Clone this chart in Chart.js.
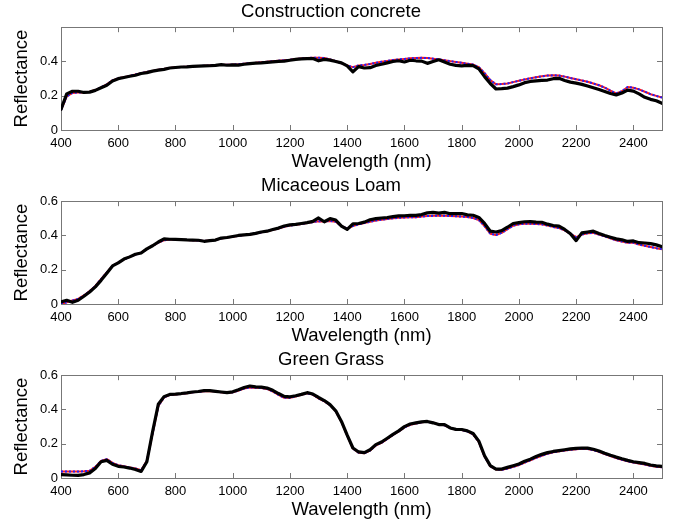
<!DOCTYPE html>
<html>
<head>
<meta charset="utf-8">
<script src="https://cdn.jsdelivr.net/npm/chart.js@4.4.0/dist/chart.umd.min.js"></script>
<style>
  body { margin: 0; background: #fff; }
  canvas { position: absolute; left: 0; }
</style>
</head>
<body>
<canvas id="c1" width="680" height="174" style="top:0"></canvas>
<canvas id="c2" width="680" height="174" style="top:174px"></canvas>
<canvas id="c3" width="680" height="174" style="top:348px"></canvas>
<script>
// wavelength grid (nm), 20 nm step
const wavelengths = Array.from({ length: 106 }, (_, i) => 400 + i * 20);
const xTicks = [400, 600, 800, 1000, 1200, 1400, 1600, 1800, 2000, 2200, 2400];
const yTicksConcrete = [0, 0.2, 0.4];
const yTicks = [0, 0.2, 0.4, 0.6];

// Construction concrete
const concreteMeasured = [
  0.12, 0.21, 0.225, 0.225, 0.218, 0.22, 0.23, 0.245, 0.26, 0.285,
  0.298, 0.305, 0.312, 0.318, 0.328, 0.333, 0.342, 0.348, 0.352, 0.36,
  0.363, 0.366, 0.367, 0.369, 0.371, 0.372, 0.373, 0.375, 0.38, 0.376,
  0.378, 0.377, 0.382, 0.385, 0.388, 0.39, 0.393, 0.396, 0.399, 0.4,
  0.405, 0.41, 0.413, 0.415, 0.415, 0.402, 0.41, 0.406, 0.398, 0.39,
  0.372, 0.338, 0.368, 0.36, 0.362, 0.375, 0.382, 0.39, 0.398, 0.402,
  0.395, 0.405, 0.402, 0.4, 0.387, 0.398, 0.408, 0.395, 0.382, 0.375,
  0.372, 0.375, 0.374, 0.355, 0.31, 0.27, 0.238, 0.24, 0.243, 0.252,
  0.262, 0.275, 0.282, 0.285, 0.288, 0.29, 0.298, 0.3, 0.288, 0.278,
  0.272, 0.265, 0.255, 0.245, 0.235, 0.224, 0.212, 0.204, 0.215, 0.232,
  0.226, 0.21, 0.19, 0.178, 0.17, 0.155
];
const concreteModel = [
  0.115, 0.195, 0.215, 0.218, 0.218, 0.222, 0.232, 0.248, 0.265, 0.288,
  0.3, 0.307, 0.314, 0.322, 0.33, 0.337, 0.343, 0.35, 0.355, 0.36,
  0.364, 0.366, 0.368, 0.37, 0.372, 0.373, 0.375, 0.377, 0.378, 0.379,
  0.38, 0.382, 0.385, 0.388, 0.39, 0.393, 0.396, 0.399, 0.402, 0.405,
  0.408, 0.412, 0.415, 0.418, 0.42, 0.42, 0.418, 0.41, 0.4, 0.388,
  0.375, 0.365, 0.375, 0.378, 0.383, 0.39, 0.396, 0.401, 0.406, 0.41,
  0.413, 0.416, 0.418, 0.419, 0.418, 0.414, 0.41, 0.405, 0.4, 0.395,
  0.39, 0.385, 0.38, 0.365, 0.33, 0.29, 0.265, 0.267, 0.27, 0.278,
  0.286, 0.294, 0.3, 0.306, 0.312, 0.316, 0.318, 0.316, 0.31, 0.302,
  0.295, 0.288, 0.28, 0.27, 0.26, 0.246, 0.228, 0.213, 0.225, 0.25,
  0.245, 0.236, 0.222, 0.208, 0.198, 0.188
];

// Micaceous Loam
const loamMeasured = [
  0.012, 0.022, 0.01, 0.022, 0.045, 0.07, 0.1, 0.138, 0.18, 0.222,
  0.24, 0.262, 0.275, 0.29, 0.298, 0.322, 0.34, 0.362, 0.38, 0.378,
  0.377, 0.376, 0.374, 0.373, 0.372, 0.366, 0.37, 0.373, 0.385, 0.388,
  0.394, 0.4, 0.403, 0.406, 0.412, 0.42, 0.425, 0.435, 0.443, 0.455,
  0.462, 0.465, 0.47, 0.475, 0.482, 0.502, 0.48, 0.498, 0.49, 0.455,
  0.435, 0.468, 0.47, 0.478, 0.492, 0.498, 0.502, 0.505, 0.51, 0.514,
  0.515, 0.518, 0.517, 0.522, 0.532, 0.535, 0.53, 0.535, 0.527, 0.527,
  0.528, 0.52, 0.518, 0.505, 0.47, 0.425, 0.42, 0.428, 0.448, 0.47,
  0.475, 0.48, 0.481, 0.478, 0.477, 0.466, 0.458, 0.455, 0.435, 0.41,
  0.37, 0.415, 0.42, 0.425, 0.412, 0.4, 0.39, 0.38, 0.375, 0.365,
  0.368, 0.358, 0.356, 0.352, 0.345, 0.335
];
const loamModel = [
  0.0, 0.01, 0.02, 0.03, 0.05, 0.075, 0.105, 0.145, 0.185, 0.222,
  0.242, 0.26, 0.275, 0.288, 0.3, 0.32, 0.34, 0.358, 0.372, 0.376,
  0.376, 0.375, 0.374, 0.372, 0.37, 0.368, 0.37, 0.375, 0.382, 0.388,
  0.393, 0.398, 0.402, 0.406, 0.412, 0.418, 0.425, 0.433, 0.44, 0.45,
  0.458, 0.462, 0.467, 0.472, 0.478, 0.483, 0.482, 0.485, 0.48, 0.455,
  0.44, 0.455, 0.465, 0.472, 0.48, 0.487, 0.492, 0.496, 0.5, 0.503,
  0.505, 0.507, 0.507, 0.51, 0.513, 0.515, 0.516, 0.515, 0.514, 0.512,
  0.51, 0.508, 0.502, 0.49, 0.455, 0.41, 0.403, 0.415, 0.437, 0.457,
  0.465, 0.468, 0.468, 0.467, 0.465, 0.458, 0.45, 0.443, 0.43, 0.41,
  0.39, 0.405, 0.413, 0.415, 0.405, 0.395, 0.383, 0.372, 0.365, 0.358,
  0.357, 0.347, 0.34, 0.333, 0.326, 0.32
];

// Green Grass
const grassMeasured = [
  0.02, 0.018, 0.016, 0.015, 0.02, 0.03, 0.055, 0.095, 0.103, 0.08,
  0.068, 0.064, 0.058, 0.05, 0.038, 0.095, 0.27, 0.43, 0.475, 0.488,
  0.49, 0.493, 0.497, 0.502, 0.505, 0.51, 0.51, 0.506, 0.502, 0.498,
  0.503, 0.515, 0.528, 0.537, 0.532, 0.53, 0.525, 0.512, 0.493, 0.476,
  0.474, 0.48, 0.488, 0.498, 0.49, 0.47, 0.452, 0.428, 0.392, 0.33,
  0.25, 0.175, 0.152, 0.148, 0.165, 0.195, 0.21, 0.232, 0.255, 0.275,
  0.3, 0.315, 0.322, 0.328, 0.33, 0.322, 0.312, 0.312, 0.292, 0.284,
  0.283, 0.275, 0.26, 0.215, 0.13, 0.072, 0.052, 0.052, 0.062, 0.072,
  0.082, 0.098, 0.11, 0.125, 0.138, 0.148, 0.155, 0.16, 0.165, 0.17,
  0.173, 0.175, 0.174, 0.168, 0.158, 0.145, 0.133, 0.122, 0.112, 0.103,
  0.095, 0.09, 0.085, 0.076, 0.071, 0.068
];
const grassModel = [
  0.038, 0.038, 0.038, 0.038, 0.039, 0.042, 0.065, 0.1, 0.11, 0.088,
  0.075, 0.068, 0.062, 0.055, 0.045, 0.1, 0.26, 0.42, 0.47, 0.485,
  0.488, 0.491, 0.495, 0.5, 0.503, 0.507, 0.508, 0.505, 0.5, 0.496,
  0.5, 0.51, 0.522, 0.528, 0.527, 0.525, 0.52, 0.505, 0.485, 0.468,
  0.468, 0.476, 0.485, 0.494, 0.487, 0.465, 0.448, 0.425, 0.39, 0.328,
  0.248, 0.172, 0.148, 0.145, 0.16, 0.19, 0.205, 0.228, 0.252, 0.272,
  0.295, 0.31, 0.318, 0.325, 0.328, 0.322, 0.312, 0.308, 0.292, 0.283,
  0.28, 0.272, 0.255, 0.21, 0.125, 0.068, 0.05, 0.048, 0.055, 0.065,
  0.075, 0.09, 0.103, 0.118, 0.13, 0.142, 0.15, 0.156, 0.161, 0.165,
  0.168, 0.17, 0.169, 0.163, 0.153, 0.14, 0.128, 0.117, 0.107, 0.098,
  0.09, 0.085, 0.079, 0.071, 0.066, 0.063
];

const FONT = "'Liberation Sans', Arial, Helvetica, sans-serif";

//box and inward tick marks, matlab style
const framePlugin = {
  id: "frame",
  beforeDatasetsDraw(chart) {
    const { ctx, chartArea: a, scales } = chart;
    const x = scales.x, y = scales.y;
    ctx.save();
    ctx.strokeStyle = "#777";
    ctx.lineWidth = 1;
    ctx.beginPath();
    for (const t of x.ticks) {
      const px = Math.round(x.getPixelForValue(t.value)) + 0.5;
      ctx.moveTo(px, a.top);
      ctx.lineTo(px, a.top + 5);
      ctx.moveTo(px, a.bottom);
      ctx.lineTo(px, a.bottom - 5);
    }
    for (const t of y.ticks) {
      const py = Math.round(y.getPixelForValue(t.value)) + 0.5;
      ctx.moveTo(a.left, py);
      ctx.lineTo(a.left + 5, py);
      ctx.moveTo(a.right, py);
      ctx.lineTo(a.right - 5, py);
    }
    ctx.stroke();
    ctx.strokeRect(Math.round(a.left) + 0.5, Math.round(a.top) + 0.5,
      Math.round(a.right - a.left), Math.round(a.bottom - a.top));
    ctx.restore();
  },
};

const toPoints = (arr) => wavelengths.map((w, i) => ({ x: w, y: arr[i] }));

function makeChart(id, title, measured, model, yMax, ticksY) {
  return new Chart(document.getElementById(id), {
    type: "line",
    data: {
      datasets: [
        { data: toPoints(measured), borderColor: "#000", borderWidth: 3.2,
          borderCapStyle: "round" },
        { data: toPoints(model), borderColor: "#2020ff", borderWidth: 2,
          borderDash: [2, 2], borderCapStyle: "butt" },
        { data: toPoints(model), borderColor: "#ff1a1a", borderWidth: 2,
          borderCapStyle: "butt" },
      ],
    },
    options: {
      responsive: false,
      animation: false,
      devicePixelRatio: 1,
      parsing: false,
      elements: {
        point: { radius: 0 },
        line: { tension: 0, borderJoinStyle: "round" },
      },
      layout: { padding: { left: 0, right: 18, top: 0, bottom: 0 } },
      plugins: {
        legend: { display: false },
        tooltip: { enabled: false },
        title: {
          display: true,
          text: title,
          color: "#000",
          font: { family: FONT, size: 18.5, weight: "normal" },
          padding: { top: 1, bottom: 4 },
        },
      },
      scales: {
        x: {
          type: "linear",
          min: 400,
          max: 2500,
          afterBuildTicks: (s) => { s.ticks = xTicks.map((v) => ({ value: v })); },
          afterFit: (s) => { s.height = 44; },
          grid: { display: false, drawTicks: false },
          border: { display: false },
          ticks: { color: "#000", padding: 6, maxRotation: 0, autoSkip: false,
            font: { family: FONT, size: 13 }, callback: (v) => String(v) },
          title: { display: true, text: "Wavelength (nm)", color: "#000",
            font: { family: FONT, size: 18.5 }, padding: { top: 0, bottom: 1 } },
        },
        y: {
          type: "linear",
          min: 0,
          max: yMax,
          afterBuildTicks: (s) => { s.ticks = ticksY.map((v) => ({ value: v })); },
          afterFit: (s) => { s.width = 61; },
          grid: { display: false, drawTicks: false },
          border: { display: false },
          ticks: { color: "#000", padding: 3, font: { family: FONT, size: 13 },
            callback: (v) => (v === 0 ? "0" : v.toFixed(1)) },
          title: { display: true, text: "Reflectance", color: "#000",
            font: { family: FONT, size: 18.5 }, padding: { top: 11, bottom: 0 } },
        },
      },
    },
    plugins: [framePlugin],
  });
}

makeChart("c1", "Construction concrete", concreteMeasured, concreteModel, 0.597, yTicksConcrete);
makeChart("c2", "Micaceous Loam", loamMeasured, loamModel, 0.6, yTicks);
makeChart("c3", "Green Grass", grassMeasured, grassModel, 0.6, yTicks);
</script>
</body>
</html>
